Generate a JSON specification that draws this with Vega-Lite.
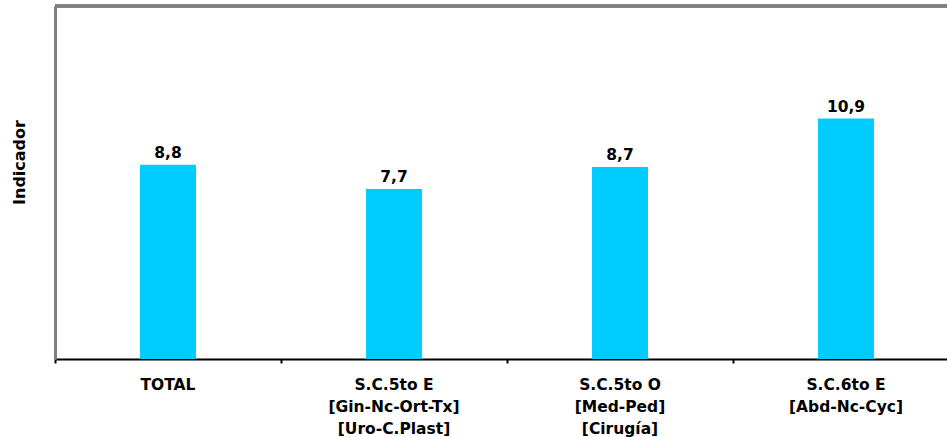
{
  "$schema": "https://vega.github.io/schema/vega-lite/v6.json",
  "width": 892,
  "height": 353,
  "autosize": {"type": "none"},
  "padding": {"left": 55, "top": 6, "right": 0, "bottom": 78},
  "background": "white",
  "config": {
    "view": {"stroke": null},
    "font": "DejaVu Sans",
    "locale": {"number": {"decimal": ",", "thousands": ".", "grouping": [3], "currency": ["", " €"]}}
  },
  "data": {
    "values": [
      {"categoria": "TOTAL", "valor": 8.8},
      {"categoria": "S.C.5to E|[Gin-Nc-Ort-Tx]|[Uro-C.Plast]", "valor": 7.7},
      {"categoria": "S.C.5to O|[Med-Ped]|[Cirugía]", "valor": 8.7},
      {"categoria": "S.C.6to E|[Abd-Nc-Cyc]", "valor": 10.9}
    ]
  },
  "layer": [
    {
      "mark": {"type": "rule", "color": "#808080", "strokeWidth": 3},
      "encoding": {"y": {"datum": 16, "type": "quantitative"}}
    },
    {
      "mark": {"type": "bar", "size": 56, "color": "#00CCFF"},
      "encoding": {
        "x": {
          "field": "categoria",
          "type": "nominal",
          "sort": null,
          "scale": {"range": [0, 904], "paddingInner": 0, "paddingOuter": 0},
          "axis": {
            "title": null,
            "labelAngle": 0,
            "labelExpr": "split(datum.label, '|')",
            "labelFont": "DejaVu Sans",
            "labelFontWeight": "bold",
            "labelFontSize": 15.5,
            "labelColor": "#000000",
            "labelLineHeight": 22,
            "labelBaseline": "top",
            "labelPadding": 14,
            "labelLimit": 300,
            "bandPosition": 0,
            "domainColor": "#000000",
            "domainWidth": 2,
            "tickColor": "#000000",
            "tickWidth": 2,
            "tickSize": 4,
            "grid": false
          }
        },
        "y": {
          "field": "valor",
          "type": "quantitative",
          "scale": {"domain": [0, 16], "nice": false},
          "axis": {
            "title": "Indicador",
            "titleFont": "DejaVu Sans",
            "titleFontWeight": "bold",
            "titleFontSize": 16,
            "titleColor": "#000000",
            "titleAngle": 270,
            "titleAlign": "center",
            "titleBaseline": "middle",
            "titleX": -36,
            "titleY": 156,
            "labels": false,
            "ticks": false,
            "grid": false,
            "domainColor": "#808080",
            "domainWidth": 3
          }
        }
      }
    },
    {
      "mark": {"type": "text", "dy": -12, "fontWeight": "bold", "fontSize": 15.5, "color": "#000000", "font": "DejaVu Sans"},
      "encoding": {
        "x": {"field": "categoria", "type": "nominal", "sort": null},
        "y": {"field": "valor", "type": "quantitative"},
        "text": {"field": "valor", "type": "quantitative", "format": ".1f"}
      }
    }
  ]
}
